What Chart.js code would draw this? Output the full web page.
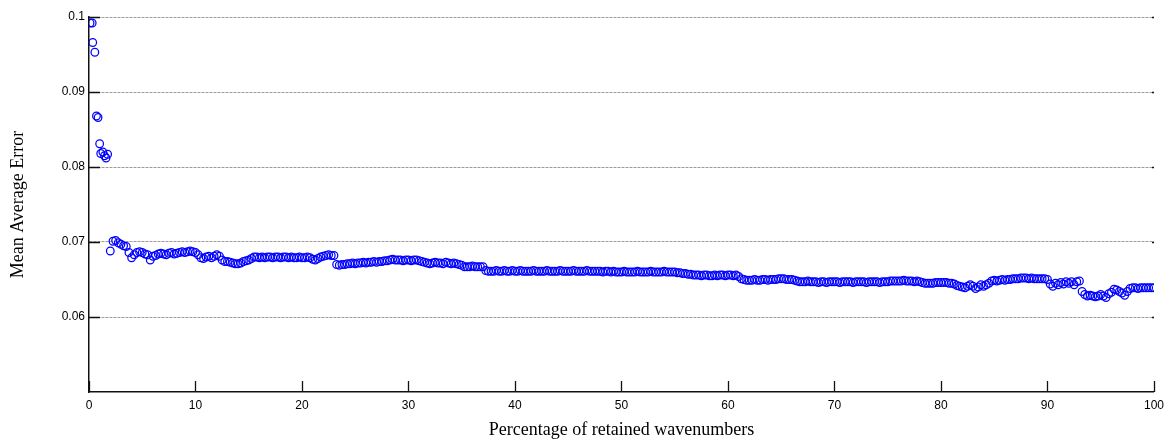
<!DOCTYPE html>
<html>
<head>
<meta charset="utf-8">
<script src="https://cdn.jsdelivr.net/npm/chart.js@4.4.1/dist/chart.umd.min.js"></script>
<style>
  html, body { margin: 0; padding: 0; background: #fff; }
  #wrap { width: 1170px; height: 441px; position: relative; }
</style>
</head>
<body>
<div id="wrap"><canvas id="c" width="1170" height="441"></canvas></div>
<script>
// Percentage of retained wavenumbers (x)
const percentages = [
  0.1,0.3,0.35,0.55,0.7,0.85,1,1.1,1.3,1.45,1.6,1.75,
  2,2.25,2.5,2.75,3,3.25,3.5,3.75,4,4.25,4.5,4.75,5,5.25,5.5,5.75,6,6.25,6.5,6.75,7,7.25,7.5,7.75,8,8.25,8.5,8.75,9,9.25,9.5,9.75,10,10.25,10.5,10.75,11,11.25,11.5,11.75,
  12,12.25,12.5,12.75,13,13.25,13.5,13.75,14,14.25,14.5,14.75,15,15.25,15.5,15.75,16,16.25,16.5,16.75,17,17.25,17.5,17.75,18,18.25,18.5,18.75,19,19.25,19.5,19.75,20,20.25,20.5,20.75,21,21.25,21.5,21.75,
  22,22.25,22.5,22.75,23,23.25,23.5,23.75,24,24.25,24.5,24.75,25,25.25,25.5,25.75,26,26.25,26.5,26.75,27,27.25,27.5,27.75,28,28.25,28.5,28.75,29,29.25,29.5,29.75,30,30.25,30.5,30.75,31,31.25,31.5,31.75,
  32,32.25,32.5,32.75,33,33.25,33.5,33.75,34,34.25,34.5,34.75,35,35.25,35.5,35.75,36,36.25,36.5,36.75,37,37.25,37.5,37.75,38,38.25,38.5,38.75,39,39.25,39.5,39.75,40,40.25,40.5,40.75,41,41.25,41.5,41.75,
  42,42.25,42.5,42.75,43,43.25,43.5,43.75,44,44.25,44.5,44.75,45,45.25,45.5,45.75,46,46.25,46.5,46.75,47,47.25,47.5,47.75,48,48.25,48.5,48.75,49,49.25,49.5,49.75,50,50.25,50.5,50.75,51,51.25,51.5,51.75,
  52,52.25,52.5,52.75,53,53.25,53.5,53.75,54,54.25,54.5,54.75,55,55.25,55.5,55.75,56,56.25,56.5,56.75,57,57.25,57.5,57.75,58,58.25,58.5,58.75,59,59.25,59.5,59.75,60,60.25,60.5,60.75,61,61.25,61.5,61.75,
  62,62.25,62.5,62.75,63,63.25,63.5,63.75,64,64.25,64.5,64.75,65,65.25,65.5,65.75,66,66.25,66.5,66.75,67,67.25,67.5,67.75,68,68.25,68.5,68.75,69,69.25,69.5,69.75,70,70.25,70.5,70.75,71,71.25,71.5,71.75,
  72,72.25,72.5,72.75,73,73.25,73.5,73.75,74,74.25,74.5,74.75,75,75.25,75.5,75.75,76,76.25,76.5,76.75,77,77.25,77.5,77.75,78,78.25,78.5,78.75,79,79.25,79.5,79.75,80,80.25,80.5,80.75,81,81.25,81.5,81.75,
  82,82.25,82.5,82.75,83,83.25,83.5,83.75,84,84.25,84.5,84.75,85,85.25,85.5,85.75,86,86.25,86.5,86.75,87,87.25,87.5,87.75,88,88.25,88.5,88.75,89,89.25,89.5,89.75,90,90.25,90.5,90.75,91,91.25,91.5,91.75,
  92,92.25,92.5,92.75,93,93.25,93.5,93.75,94,94.25,94.5,94.75,95,95.25,95.5,95.75,96,96.25,96.5,96.75,97,97.25,97.5,97.75,98,98.25,98.5,98.75,99,99.25,99.5,99.75,
  100
];

// Mean Average Error (y)
const meanAverageError = [
  0.0992,0.0992,0.0966,0.0953,0.0868,0.0866,0.0831,0.0818,0.0820,0.0815,0.0812,0.0817,
  0.0688,0.0701,0.0702,0.0699, 0.0697,0.0695,0.0694,0.0686, 0.0679,0.0683,0.0686,0.0687, 0.0686,0.0684,0.0683,0.0676, 0.0681,0.0682,0.0684,0.0685,
  0.0684,0.0683,0.0685,0.0686, 0.0684,0.0685,0.0686,0.0687, 0.0686,0.0687,0.0688,0.0687, 0.0686,0.0683,0.0679,0.0678, 0.0680,0.0681,0.0679,0.0681,
  0.0683,0.0681,0.0676,0.0674, 0.0674,0.0673,0.0672,0.0671, 0.0671,0.0672,0.0674,0.0675, 0.0676,0.0678,0.0680,0.0680, 0.0679,0.0680,0.0679,0.0680,
  0.0680,0.0679,0.0680,0.0680, 0.0679,0.0680,0.0680,0.0679, 0.0680,0.0679,0.0679,0.0680, 0.0679,0.0679,0.0680,0.0679, 0.0677,0.0676,0.0678,0.0680,
  0.0681,0.0682,0.0683,0.0682, 0.0682,0.0670,0.0669,0.0670, 0.0670,0.0671,0.0671,0.0672, 0.0671,0.0672,0.0672,0.0673, 0.0672,0.0673,0.0673,0.0674,
  0.0673,0.0674,0.0674,0.0675, 0.0675,0.0676,0.0677,0.0676, 0.0676,0.0676,0.0675,0.0676, 0.0676,0.0675,0.0676,0.0676, 0.0675,0.0674,0.0673,0.0672,
  0.0671,0.0672,0.0673,0.0672, 0.0672,0.0671,0.0673,0.0672, 0.0671,0.0672,0.0671,0.0670, 0.0669,0.0667,0.0667,0.0667, 0.0668,0.0667,0.0667,0.0667,
  0.0667,0.0662,0.0661,0.0661, 0.0661,0.0662,0.0661,0.0661, 0.0662,0.0661,0.0661,0.0662, 0.0661,0.0661,0.0662,0.0661, 0.0661,0.0661,0.0661,0.0662,
  0.0661,0.0661,0.0661,0.0661, 0.0662,0.0661,0.0661,0.0661, 0.0661,0.0662,0.0661,0.0661, 0.0661,0.0661,0.0662,0.0661, 0.0661,0.0661,0.0661,0.0662,
  0.0661,0.0661,0.0661,0.0661, 0.0661,0.0660,0.0661,0.0661, 0.0660,0.0661,0.0660,0.0660, 0.0660,0.0661,0.0660,0.0660, 0.0660,0.0660,0.0661,0.0660,
  0.0660,0.0660,0.0660,0.0661, 0.0660,0.0660,0.0660,0.0660, 0.0661,0.0660,0.0660,0.0660, 0.0660,0.0659,0.0659,0.0658, 0.0658,0.0657,0.0657,0.0656,
  0.0656,0.0656,0.0655,0.0656, 0.0656,0.0655,0.0655,0.0656, 0.0655,0.0656,0.0656,0.0655, 0.0656,0.0656,0.0655,0.0656, 0.0654,0.0651,0.0650,0.0649,
  0.0649,0.0649,0.0650,0.0649, 0.0649,0.0650,0.0650,0.0649, 0.0650,0.0650,0.0650,0.0651, 0.0651,0.0651,0.0650,0.0650, 0.0650,0.0649,0.0648,0.0647,
  0.0647,0.0647,0.0648,0.0647, 0.0647,0.0647,0.0646,0.0647, 0.0647,0.0646,0.0647,0.0647, 0.0647,0.0647,0.0646,0.0647, 0.0647,0.0647,0.0647,0.0646,
  0.0647,0.0647,0.0647,0.0647, 0.0646,0.0647,0.0647,0.0647, 0.0647,0.0646,0.0647,0.0647, 0.0647,0.0648,0.0648,0.0648, 0.0648,0.0648,0.0649,0.0648,
  0.0648,0.0648,0.0647,0.0648, 0.0647,0.0646,0.0645,0.0645, 0.0645,0.0645,0.0646,0.0646, 0.0646,0.0646,0.0646,0.0645, 0.0645,0.0644,0.0642,0.0641,
  0.0640,0.0639,0.0641,0.0643, 0.0641,0.0638,0.0640,0.0643, 0.0641,0.0643,0.0645,0.0648, 0.0649,0.0648,0.0649,0.0650, 0.0649,0.0650,0.0650,0.0651,
  0.0651,0.0651,0.0652,0.0652, 0.0652,0.0651,0.0652,0.0651, 0.0651,0.0651,0.0651,0.0651, 0.0650,0.0644,0.0641,0.0645, 0.0643,0.0646,0.0644,0.0647,
  0.0645,0.0647,0.0643,0.0647, 0.0648,0.0634,0.0630,0.0628, 0.0629,0.0628,0.0627,0.0628, 0.0630,0.0628,0.0626,0.0631,
  0.0633,0.0637,0.0636,0.0634, 0.0632,0.0629,0.0634,0.0638, 0.0639,0.0639,0.0638,0.0639, 0.0639,0.0639,0.0639,0.0639,
  0.0639
];

const xTickValues = [0,10,20,30,40,50,60,70,80,90,100];
const yTickValues = [0.06,0.07,0.08,0.09,0.1];
const yTickLabels = ['0.06','0.07','0.08','0.09','0.1'];
const xTitle = 'Percentage of retained wavenumbers';
const yTitle = 'Mean Average Error';

const points = percentages.map((x, i) => ({ x: x, y: meanAverageError[i] }));

const inwardTicks = {
  id: 'inwardTicks',
  afterDraw(chart) {
    const ctx = chart.ctx;
    const xs = chart.scales.x, ys = chart.scales.y;
    const a = chart.chartArea;
    ctx.save();
    ctx.strokeStyle = '#111';
    ctx.lineWidth = 1.3;
    ctx.beginPath();
    xTickValues.forEach(v => {
      const px = Math.round(xs.getPixelForValue(v)) + 0.5;
      ctx.moveTo(px, a.bottom);
      ctx.lineTo(px, a.bottom - 11);
    });
    yTickValues.forEach(v => {
      const py = Math.round(ys.getPixelForValue(v)) + 0.5;
      ctx.moveTo(a.left, py);
      ctx.lineTo(a.left + 11, py);
      ctx.moveTo(a.right - 2, py);
      ctx.lineTo(a.right, py);
    });
    ctx.stroke();
    ctx.restore();
  }
};

new Chart(document.getElementById('c'), {
  type: 'scatter',
  data: {
    datasets: [{
      data: points,
      pointStyle: 'circle',
      pointRadius: 3.8,
      pointBorderWidth: 1.25,
      borderColor: '#0000ff',
      pointBorderColor: '#0000ff',
      backgroundColor: 'rgba(0,0,0,0)',
      pointBackgroundColor: 'rgba(0,0,0,0)',
      showLine: false
    }]
  },
  options: {
    responsive: false,
    animation: false,
    events: [],
    layout: { padding: { top: 17, right: 15, bottom: 0, left: 0 } },
    plugins: { legend: { display: false }, tooltip: { enabled: false } },
    scales: {
      x: {
        type: 'linear',
        min: 0, max: 100,
        afterBuildTicks: s => { s.ticks = xTickValues.map(v => ({ value: v })); },
        afterFit: s => { s.height = 49; },
        ticks: {
          color: '#000',
          padding: 6,
          maxRotation: 0,
          font: { family: '"Liberation Sans", Arial, sans-serif', size: 12 },
          callback: v => String(v)
        },
        grid: { display: false, drawTicks: false },
        border: { display: true, color: '#111', width: 1.5 },
        title: {
          display: true,
          text: xTitle,
          color: '#000',
          font: { family: '"Liberation Serif", "Times New Roman", serif', size: 18 },
          padding: { top: 0, bottom: 0 }
        }
      },
      y: {
        type: 'linear',
        min: 0.05, max: 0.1,
        afterBuildTicks: s => { s.ticks = yTickValues.map(v => ({ value: v })); },
        afterFit: s => { s.width = 89; },
        ticks: {
          color: '#000',
          padding: 4,
          font: { family: '"Liberation Sans", Arial, sans-serif', size: 12 },
          callback: (v, i) => yTickLabels[i]
        },
        grid: { display: true, color: '#9c9c9c', lineWidth: 1, drawTicks: false },
        border: { display: true, color: '#111', width: 1.5, dash: [3, 1] },
        title: {
          display: true,
          text: yTitle,
          color: '#000',
          font: { family: '"Liberation Serif", "Times New Roman", serif', size: 18 },
          padding: { top: 7, bottom: 0 }
        }
      }
    }
  },
  plugins: [inwardTicks]
});
</script>
</body>
</html>
